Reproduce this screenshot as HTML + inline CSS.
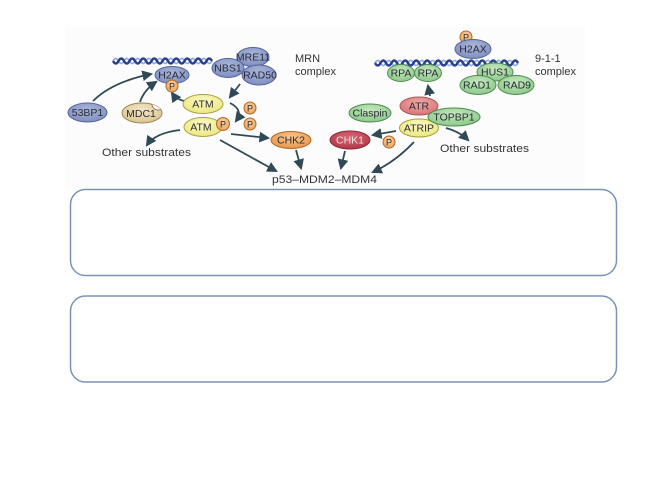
<!DOCTYPE html>
<html><head><meta charset="utf-8"><style>
html,body{margin:0;padding:0;background:#fff;}
svg{display:block;}
text{font-family:"Liberation Sans",sans-serif;}
</style></head><body>
<svg width="660" height="480" viewBox="0 0 660 480" xmlns="http://www.w3.org/2000/svg">
<defs>
<marker id="ah" viewBox="0 0 10 10" refX="8" refY="5" markerWidth="6" markerHeight="6" orient="auto">
<path d="M0,0 L10,5 L0,10 z" fill="#2f4a55"/>
</marker>
<radialGradient id="gb" cx="50%" cy="35%" r="65%"><stop offset="0" stop-color="#a9b5da"/><stop offset="1" stop-color="#7f8fc0"/></radialGradient>
<radialGradient id="gg" cx="50%" cy="35%" r="65%"><stop offset="0" stop-color="#c6e8be"/><stop offset="1" stop-color="#8cc98a"/></radialGradient>
<radialGradient id="gy" cx="50%" cy="35%" r="65%"><stop offset="0" stop-color="#fbf9c4"/><stop offset="1" stop-color="#ece77e"/></radialGradient>
<radialGradient id="gt" cx="50%" cy="35%" r="65%"><stop offset="0" stop-color="#f3e6c6"/><stop offset="1" stop-color="#dcc593"/></radialGradient>
<radialGradient id="go" cx="50%" cy="35%" r="65%"><stop offset="0" stop-color="#f8c88c"/><stop offset="1" stop-color="#e8954a"/></radialGradient>
<radialGradient id="gr" cx="50%" cy="35%" r="65%"><stop offset="0" stop-color="#f0a8a8"/><stop offset="1" stop-color="#d87474"/></radialGradient>
<radialGradient id="gd" cx="50%" cy="35%" r="65%"><stop offset="0" stop-color="#d86878"/><stop offset="1" stop-color="#b03848"/></radialGradient>
<radialGradient id="gp" cx="50%" cy="35%" r="65%"><stop offset="0" stop-color="#fbd3a0"/><stop offset="1" stop-color="#eca35a"/></radialGradient>
<clipPath id="mdc"><ellipse cx="142" cy="113" rx="20" ry="10"/></clipPath>
</defs>

<!-- image background -->
<rect x="65" y="27" width="520" height="162" fill="#fcfcfc"/>

<!-- DNA left -->
<path d="M113,61 q2.75,-5 5.5,0 t5.5,0 t5.5,0 t5.5,0 t5.5,0 t5.5,0 t5.5,0 t5.5,0 t5.5,0 t5.5,0 t5.5,0 t5.5,0 t5.5,0 t5.5,0 t5.5,0 t5.5,0 t5.5,0 t5.5,0" fill="none" stroke="#8fb0dc" stroke-width="1.8"/>
<path d="M113,61 q2.75,5 5.5,0 t5.5,0 t5.5,0 t5.5,0 t5.5,0 t5.5,0 t5.5,0 t5.5,0 t5.5,0 t5.5,0 t5.5,0 t5.5,0 t5.5,0 t5.5,0 t5.5,0 t5.5,0 t5.5,0 t5.5,0" fill="none" stroke="#2b3f8a" stroke-width="2.4"/>
<!-- DNA right -->
<path d="M375,63 q2.75,-5 5.5,0 t5.5,0 t5.5,0 t5.5,0 t5.5,0 t5.5,0 t5.5,0 t5.5,0 t5.5,0 t5.5,0 t5.5,0 t5.5,0 t5.5,0 t5.5,0 t5.5,0 t5.5,0 t5.5,0 t5.5,0 t5.5,0 t5.5,0 t5.5,0 t5.5,0 t5.5,0 t5.5,0 t5.5,0 t5.5,0" fill="none" stroke="#8fb0dc" stroke-width="1.8"/>
<path d="M375,63 q2.75,5 5.5,0 t5.5,0 t5.5,0 t5.5,0 t5.5,0 t5.5,0 t5.5,0 t5.5,0 t5.5,0 t5.5,0 t5.5,0 t5.5,0 t5.5,0 t5.5,0 t5.5,0 t5.5,0 t5.5,0 t5.5,0 t5.5,0 t5.5,0 t5.5,0 t5.5,0 t5.5,0 t5.5,0 t5.5,0 t5.5,0" fill="none" stroke="#2b3f8a" stroke-width="2.4"/>

<!-- arrows -->
<g fill="none" stroke="#2f4a55" stroke-width="1.8" marker-end="url(#ah)">
<path d="M93,101 Q112,82 151,74"/>
<path d="M140,102 Q144,90 156,82"/>
<path d="M184,101 Q176,99 172,93"/>
<path d="M240,84 L230,97"/>
<path d="M230,103 Q244,110 236,121"/>
<path d="M231,134 L268,138"/>
<path d="M180,130 Q155,133 147,145"/>
<path d="M220,140 L276,171"/>
<path d="M296,150 L301,168"/>
<path d="M430,96 L428,86"/>
<path d="M396,131 L373,135"/>
<path d="M446,128 Q460,132 468,140"/>
<path d="M414,142 Q395,162 373,172"/>
<path d="M345,151 L341,168"/>
</g>

<!-- left nodes -->
<g stroke-width="1" font-size="10.5" text-anchor="middle" fill="#2a2a35">
<ellipse cx="253" cy="57" rx="16" ry="9.5" fill="url(#gb)" stroke="#55649a"/>
<ellipse cx="259" cy="75" rx="17" ry="10" fill="url(#gb)" stroke="#55649a"/>
<ellipse cx="228" cy="68" rx="16" ry="9.5" fill="url(#gb)" stroke="#55649a"/>
<text x="253" y="60.5">MRE11</text>
<text x="260" y="78.5">RAD50</text>
<text x="228" y="71.5">NBS1</text>

<ellipse cx="172" cy="75" rx="17" ry="8.5" fill="url(#gb)" stroke="#55649a"/>
<text x="172" y="78.5">H2AX</text>
<circle cx="172" cy="86" r="6" fill="url(#gp)" stroke="#b06a28"/>
<text x="172" y="89.5" font-size="9">P</text>

<ellipse cx="87.5" cy="112.5" rx="19.5" ry="9.5" fill="url(#gb)" stroke="#55649a"/>
<text x="87.5" y="116">53BP1</text>

<ellipse cx="142" cy="113" rx="20" ry="10" fill="url(#gt)" stroke="#9a8454"/>
<circle cx="158" cy="104" r="6" fill="#fcfcfc" stroke="#9a8454" clip-path="url(#mdc)"/>
<text x="141" y="117">MDC1</text>

<ellipse cx="203" cy="127" rx="19" ry="9.5" fill="url(#gy)" stroke="#a8a040"/>
<ellipse cx="203" cy="104" rx="20" ry="9.5" fill="url(#gy)" stroke="#a8a040"/>
<text x="203" y="107.5">ATM</text>
<text x="201" y="130.5">ATM</text>
<circle cx="223" cy="124" r="6.5" fill="url(#gp)" stroke="#b06a28"/>
<text x="223" y="127.5" font-size="9">P</text>
<circle cx="250" cy="108" r="6" fill="url(#gp)" stroke="#b06a28"/>
<text x="250" y="111.5" font-size="9">P</text>
<circle cx="250" cy="124" r="6" fill="url(#gp)" stroke="#b06a28"/>
<text x="250" y="127.5" font-size="9">P</text>

<ellipse cx="291" cy="140" rx="20" ry="8.5" fill="url(#go)" stroke="#b06a28"/>
<text x="291" y="143.5">CHK2</text>
</g>

<!-- right nodes -->
<g stroke-width="1" font-size="10.5" text-anchor="middle" fill="#2a2a35">
<circle cx="466" cy="37" r="6" fill="url(#gp)" stroke="#b06a28"/>
<text x="466" y="40.5" font-size="9">P</text>
<ellipse cx="473" cy="49" rx="18" ry="9.5" fill="url(#gb)" stroke="#55649a"/>
<text x="473" y="52.5">H2AX</text>

<ellipse cx="401" cy="73" rx="13.5" ry="8.5" fill="url(#gg)" stroke="#4f8a52"/>
<ellipse cx="428" cy="73" rx="13.5" ry="8.5" fill="url(#gg)" stroke="#4f8a52"/>
<text x="401" y="76.5">RPA</text>
<text x="428" y="76.5">RPA</text>

<ellipse cx="495" cy="72" rx="18" ry="9" fill="url(#gg)" stroke="#4f8a52"/>
<ellipse cx="478" cy="85" rx="18" ry="9.5" fill="url(#gg)" stroke="#4f8a52"/>
<ellipse cx="516" cy="85" rx="18" ry="9.5" fill="url(#gg)" stroke="#4f8a52"/>
<text x="495" y="75.5">HUS1</text>
<text x="477" y="88.5">RAD1</text>
<text x="517" y="88.5">RAD9</text>

<ellipse cx="370" cy="113" rx="21" ry="9" fill="url(#gg)" stroke="#4f8a52"/>
<text x="370" y="116.5">Claspin</text>

<ellipse cx="419" cy="128" rx="19.5" ry="9" fill="url(#gy)" stroke="#a8a040"/>
<ellipse cx="419" cy="106" rx="19" ry="9" fill="url(#gr)" stroke="#a85858"/>
<text x="419" y="109.5">ATR</text>
<text x="419" y="131.5">ATRIP</text>
<ellipse cx="454" cy="117" rx="26" ry="9" fill="url(#gg)" stroke="#4f8a52"/>
<text x="454" y="120.5">TOPBP1</text>

<ellipse cx="350" cy="140" rx="20" ry="9" fill="url(#gd)" stroke="#8a2a38"/>
<text x="350" y="143.5" fill="#f4e0e0">CHK1</text>
<circle cx="389" cy="142" r="6" fill="url(#gp)" stroke="#b06a28"/>
<text x="389" y="145.5" font-size="9">P</text>
</g>

<!-- labels -->
<g font-size="11" fill="#333">
<text x="295" y="62">MRN</text>
<text x="295" y="75">complex</text>
<text x="535" y="62">9-1-1</text>
<text x="535" y="75">complex</text>
<text x="102" y="156" textLength="89" lengthAdjust="spacingAndGlyphs">Other substrates</text>
<text x="440" y="152" textLength="89" lengthAdjust="spacingAndGlyphs">Other substrates</text>
<text x="272" y="183" textLength="105" lengthAdjust="spacingAndGlyphs">p53–MDM2–MDM4</text>
</g>

<!-- boxes -->
<rect x="70.5" y="189.5" width="546" height="86" rx="15" ry="15" fill="#fff" stroke="#7a93b3" stroke-width="1.5"/>
<rect x="70.5" y="296" width="546" height="86" rx="15" ry="15" fill="#fff" stroke="#7a93b3" stroke-width="1.5"/>
</svg>
</body></html>
